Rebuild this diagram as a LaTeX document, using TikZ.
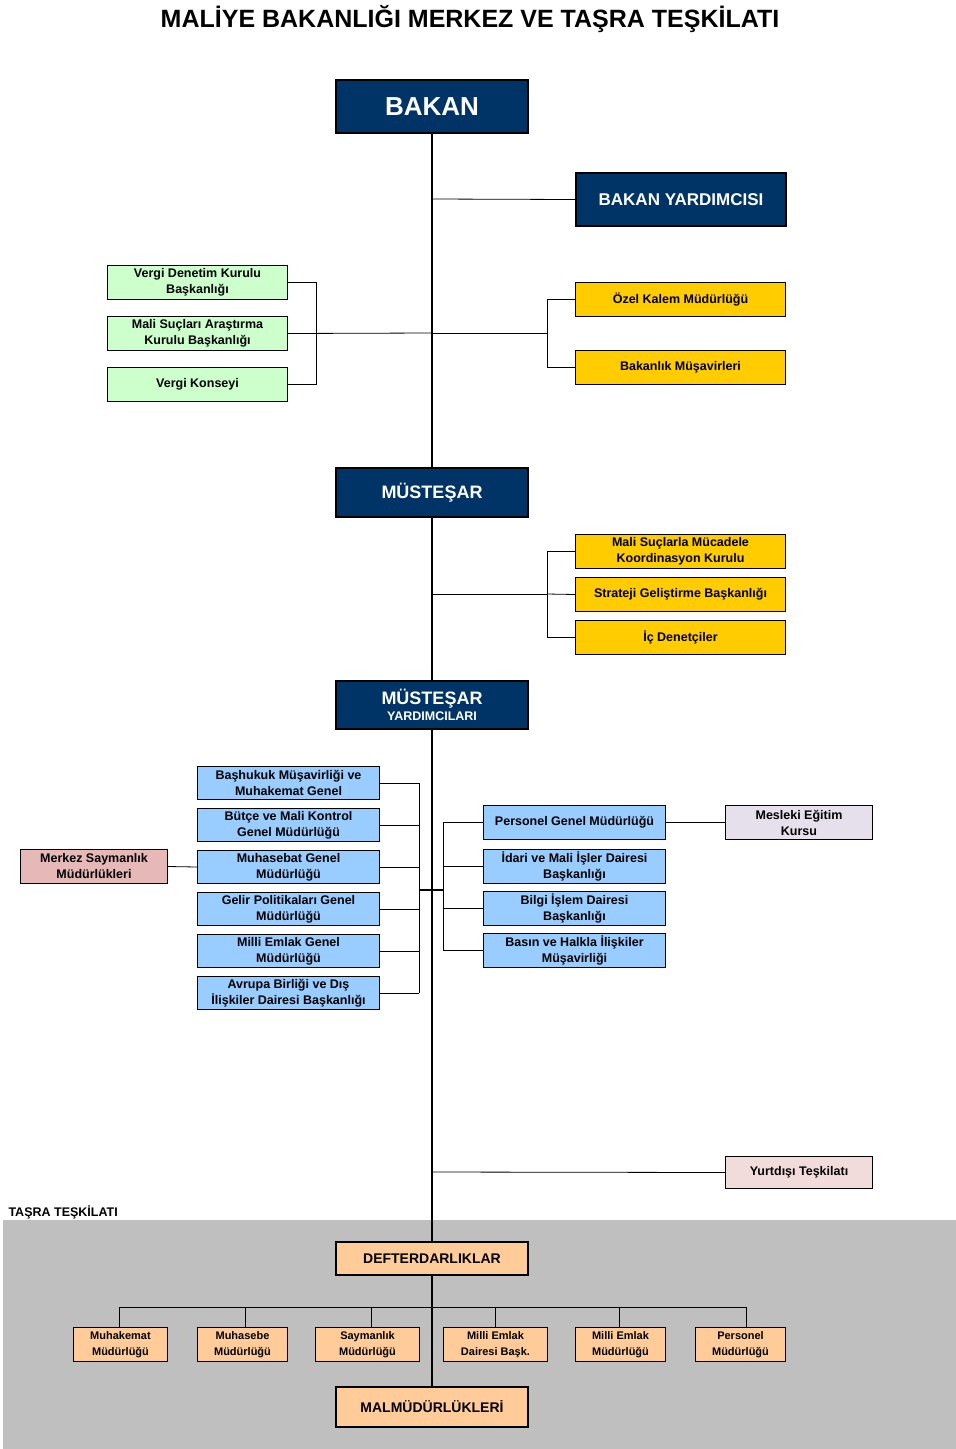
\documentclass[tikz,border=0pt]{standalone}
\usepackage{fontspec}
\setmainfont{Liberation Sans}
\begin{document}
\begin{tikzpicture}[x=1pt,y=-1pt,
 bx/.style={draw=black,line width=1pt,inner sep=0pt,align=center,font=\bfseries\fontsize{12.5}{16}\selectfont,anchor=north west},
 nav/.style={bx,fill={rgb,255:red,0;green,51;blue,102},text=white,line width=2pt},
 grn/.style={bx,fill={rgb,255:red,204;green,255;blue,204}},
 yel/.style={bx,fill={rgb,255:red,255;green,204;blue,0}},
 blu/.style={bx,fill={rgb,255:red,153;green,204;blue,255}},
 pch/.style={bx,fill={rgb,255:red,255;green,204;blue,153}},
 ln/.style={line width=0.8pt},
 ml/.style={line width=2pt}]
\useasboundingbox (0,0) rectangle (956,1449);
\fill[white] (0,0) rectangle (956,1449);
\fill[gray!50] (3,1220) rectangle (956,1449);
\node[font=\bfseries\fontsize{25}{30}\selectfont] (title) at (470,19) {MALİYE BAKANLIĞI MERKEZ VE TAŞRA TEŞKİLATI};
\node[anchor=west,font=\bfseries\fontsize{12.5}{15}\selectfont] (tl) at (5,1212) {TAŞRA TEŞKİLATI};
\newcommand{\bxx}[6]{\node[#1,minimum width=#4-#2,minimum height=#5-#3] (#6) at (#2,#3)}
% main line
\bxx{nav}{335}{79}{527}{132}{bakan}{\fontsize{26}{30}\selectfont BAKAN};
\bxx{nav}{575}{172}{785}{225}{by}{\fontsize{17}{20}\selectfont BAKAN YARDIMCISI};
\bxx{grn}{107}{265}{287}{299}{g1}{Vergi Denetim Kurulu\\Başkanlığı};
\bxx{grn}{107}{316}{287}{350}{g2}{Mali Suçları Araştırma\\Kurulu Başkanlığı};
\bxx{grn}{107}{367}{287}{401}{g3}{Vergi Konseyi};
\bxx{yel}{575}{282}{785}{316}{y1}{Özel Kalem Müdürlüğü};
\bxx{yel}{575}{350}{785}{384}{y2}{Bakanlık Müşavirleri};
\bxx{nav}{335}{467}{527}{516}{mus}{\fontsize{18}{21}\selectfont MÜSTEŞAR};
\bxx{yel}{575}{534}{785}{568}{y3}{Mali Suçlarla Mücadele\\Koordinasyon Kurulu};
\bxx{yel}{575}{577}{785}{611}{y4}{Strateji Geliştirme Başkanlığı};
\bxx{yel}{575}{620}{785}{654}{y5}{İç Denetçiler};
\bxx{nav}{335}{680}{527}{728}{my}{\fontsize{18}{23}\selectfont MÜSTEŞAR\\YARDIMCILARI};
\bxx{blu}{197}{766}{379}{799}{l1}{Başhukuk Müşavirliği ve\\Muhakemat Genel};
\bxx{blu}{197}{808}{379}{841}{l2}{Bütçe ve Mali Kontrol\\Genel Müdürlüğü};
\bxx{blu}{197}{850}{379}{883}{l3}{Muhasebat Genel\\Müdürlüğü};
\bxx{blu}{197}{892}{379}{925}{l4}{Gelir Politikaları Genel\\Müdürlüğü};
\bxx{blu}{197}{934}{379}{967}{l5}{Milli Emlak Genel\\Müdürlüğü};
\bxx{blu}{197}{976}{379}{1009}{l6}{Avrupa Birliği ve Dış\\İlişkiler Dairesi Başkanlığı};
\bxx{blu}{483}{805}{665}{839}{r1}{Personel Genel Müdürlüğü};
\bxx{blu}{483}{849}{665}{883}{r2}{İdari ve Mali İşler Dairesi\\Başkanlığı};
\bxx{blu}{483}{891}{665}{925}{r3}{Bilgi İşlem Dairesi\\Başkanlığı};
\bxx{blu}{483}{933}{665}{967}{r4}{Basın ve Halkla İlişkiler\\Müşavirliği};
\bxx{bx,fill={rgb,255:red,230;green,224;blue,236}}{725}{805}{872}{839}{mes}{Mesleki Eğitim\\Kursu};
\bxx{bx,fill={rgb,255:red,230;green,185;blue,184}}{20}{849}{167}{883}{mer}{Merkez Saymanlık\\Müdürlükleri};
\bxx{bx,fill={rgb,255:red,242;green,220;blue,219}}{725}{1156}{872}{1188}{yur}{Yurtdışı Teşkilatı};
\bxx{pch,line width=2pt}{335}{1241}{527}{1274}{def}{\fontsize{14}{17}\selectfont DEFTERDARLIKLAR};
\bxx{pch,line width=2pt}{335}{1386}{527}{1426}{mal}{\fontsize{14}{17}\selectfont MALMÜDÜRLÜKLERİ};
\bxx{pch,font=\bfseries\fontsize{11}{16}\selectfont}{73}{1327}{167}{1361}{t1}{Muhakemat\\Müdürlüğü};
\bxx{pch,font=\bfseries\fontsize{11}{16}\selectfont}{197}{1327}{287}{1361}{t2}{Muhasebe\\Müdürlüğü};
\bxx{pch,font=\bfseries\fontsize{11}{16}\selectfont}{315}{1327}{419}{1361}{t3}{Saymanlık\\Müdürlüğü};
\bxx{pch,font=\bfseries\fontsize{11}{16}\selectfont}{443}{1327}{547}{1361}{t4}{Milli Emlak\\Dairesi Başk.};
\bxx{pch,font=\bfseries\fontsize{11}{16}\selectfont}{575}{1327}{665}{1361}{t5}{Milli Emlak\\Müdürlüğü};
\bxx{pch,font=\bfseries\fontsize{11}{16}\selectfont}{695}{1327}{785}{1361}{t6}{Personel\\Müdürlüğü};
% connectors
\coordinate (ja) at (431,333);
\coordinate (jb) at (431,594);
\coordinate (jc) at (419,890);
\coordinate (jd) at (443,890);
\coordinate (je) at (431,1307);
\draw[ml] (bakan.south) -- (mus.north);
\draw[ml] (mus.south) -- (my.north);
\draw[ml] (my.south) -- (def.north);
\draw[ml] (def.south) -- (mal.north);
\draw[ln] (431,199) -- (by.west);
\draw[ln] (g1.east) -- ++(28,0) |- (g3.east);
\draw[ln] (g2.east) -- (ja);
\draw[ln] (ja) -- (547,333);
\draw[ln] (y1.west) -- ++(-28,0) |- (y2.west);
\draw[ln] (jb) -- (547,594);
\draw[ln] (y3.west) -- ++(-28,0) |- (y5.west);
\draw[ln] (y4.west) -- (547,594);
\foreach \n in {l1,l2,l3,l4,l5,l6} \draw[ln] (\n.east) -- (419,0|-\n.east);
\draw[ln] (419,0|-l1.east) -- (419,0|-l6.east);
\draw[ml] (jc) -- (jd);
\foreach \n in {r1,r2,r3,r4} \draw[ln] (\n.west) -- (443,0|-\n.west);
\draw[ln] (443,0|-r1.west) -- (443,0|-r4.west);
\draw[ln] (r1.east) -- (mes.west);
\draw[ln] (mer.east) -- (l3.west);
\draw[ln] (431,1172) -- (yur.west);
\draw[ln] (119,1307) -- (746,1307);
\foreach \n/\x in {t1/119,t2/245,t3/371,t4/495,t5/619,t6/746} \draw[ln] (\x,1307) -- (\x,1327);
\end{tikzpicture}
\end{document}
